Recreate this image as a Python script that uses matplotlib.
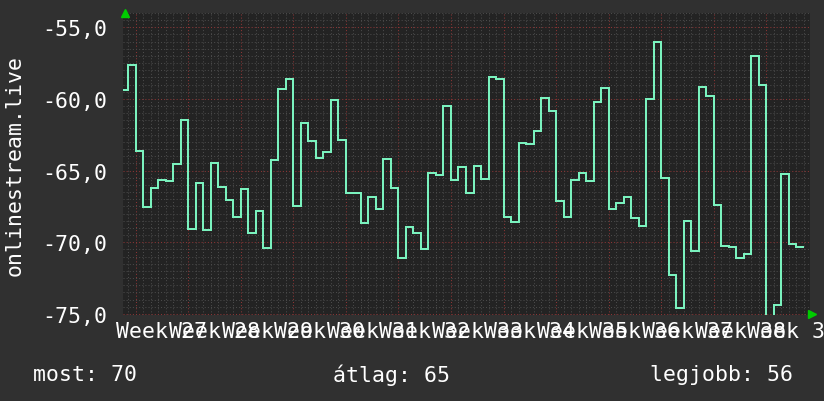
import numpy as np
import matplotlib
matplotlib.use("Agg")
import matplotlib.pyplot as plt
from matplotlib.ticker import MultipleLocator, FixedLocator, FuncFormatter

# ---- data ----
# daily values, day 0 = start of week 27
day_edges = list(range(-2, 90))
values = [
    -59.35, -57.6,
    -63.6, -67.53, -66.2, -65.63, -65.7, -64.51, -61.44,
    -69.07, -65.84, -69.12, -64.44, -66.12, -67.02, -68.21,
    -66.28, -69.33, -67.81, -70.42, -64.26, -59.3, -58.6,
    -67.44, -61.67, -62.93, -64.09, -63.67, -60.05, -62.86,
    -66.58, -66.58, -68.63, -66.84, -67.67, -64.19, -66.2,
    -71.12, -68.93, -69.33, -70.44, -65.14, -65.28, -60.47,
    -65.63, -64.72, -66.58, -64.65, -65.58, -58.44, -58.58,
    -68.21, -68.56, -63.05, -63.14, -62.23, -59.91, -60.81,
    -67.12, -68.23, -65.63, -65.14, -65.72, -60.19, -59.21,
    -67.67, -67.23, -66.81, -68.28, -68.84, -60.0, -56.0,
    -65.51, -72.26, -74.56, -68.51, -70.58, -59.16, -59.79,
    -67.4, -70.23, -70.33, -71.12, -70.79, -56.98, -59.0,
    -75.3, -74.35, -65.21, -70.12, -70.33,
]
week_numbers = list(range(27, 40))
week_labels = [f"Week {w}" for w in week_numbers]
y_ticks = [-75, -70, -65, -60, -55]
series_name = "onlinestream.live"
legend_items = [("most", 70), ("átlag", 65), ("legjobb", 56)]

# ---- style ----
FIG_BG = "#303030"
AX_BG = "#232323"
LINE_C = "#7af2be"
MINOR_C = "#4a4a4a"
MAJOR_C = "#8a3535"
TXT = "#ffffff"
FONT = "DejaVu Sans Mono"
FS = 15.5

plt.rcParams["font.family"] = [FONT, "DejaVu Sans"]

fig = plt.figure(figsize=(8.24, 4.02), dpi=100, facecolor=FIG_BG)
W, H = 824, 402
l, r, t, b = 123.5, 810, 14, 316
ax = fig.add_axes([l / W, 1 - b / H, (r - l) / W, (b - t) / H])
ax.set_facecolor(AX_BG)

st = ax.stairs(values, day_edges, baseline=None, color=LINE_C, lw=1.44, zorder=3)
st.set_snap(True)

ax.set_xlim(-1.62, 89.82)
ax.set_ylim(-75.07, -54.0)

# grid
ax.xaxis.set_major_locator(FixedLocator([7 * k for k in range(0, 13)]))
ax.xaxis.set_minor_locator(MultipleLocator(1))
ax.yaxis.set_major_locator(FixedLocator(y_ticks))
ax.yaxis.set_minor_locator(MultipleLocator(0.5))
ax.grid(which="minor", color=MINOR_C, linestyle=(0, (1, 2)), lw=0.75)
ax.grid(which="major", color=MAJOR_C, linestyle=(0, (1, 2)), lw=0.75)
ax.set_axisbelow(True)

ax.yaxis.set_major_formatter(FuncFormatter(lambda v, p: f"{v:.1f}".replace(".", ",")))
ax.tick_params(axis="y", which="both", length=0, pad=11.5, labelsize=FS, labelcolor=TXT)
ax.tick_params(axis="x", which="both", length=0, labelbottom=False)

for spine in ax.spines.values():
    spine.set_visible(False)

# week labels centred in each week
for i, lab in enumerate(week_labels):
    ax.text(3.5 + 7 * i, -75.07 - 0.4, lab, ha="center", va="top",
            fontsize=FS, color=TXT, clip_on=False, family=FONT)

# y label
fig.text(15 / W, 1 - 165 / H, series_name, rotation=90, ha="center", va="center",
         fontsize=FS, color=TXT, family=FONT)

# arrows
ax.plot([0.002], [1.0], transform=ax.transAxes, marker="^", ms=6, color="#00cc00",
        clip_on=False, zorder=5)
ax.plot([1.003], [0.004], transform=ax.transAxes, marker=">", ms=6, color="#00cc00",
        clip_on=False, zorder=5)

# legend texts
xs = [33, 333, 650]
for (name, val), x in zip(legend_items, xs):
    fig.text(x / W, 1 - 375 / H, f"{name}: {val}", ha="left", va="center",
             fontsize=FS, color=TXT, family=FONT)

fig.savefig("out.png", dpi=100, facecolor=FIG_BG)
